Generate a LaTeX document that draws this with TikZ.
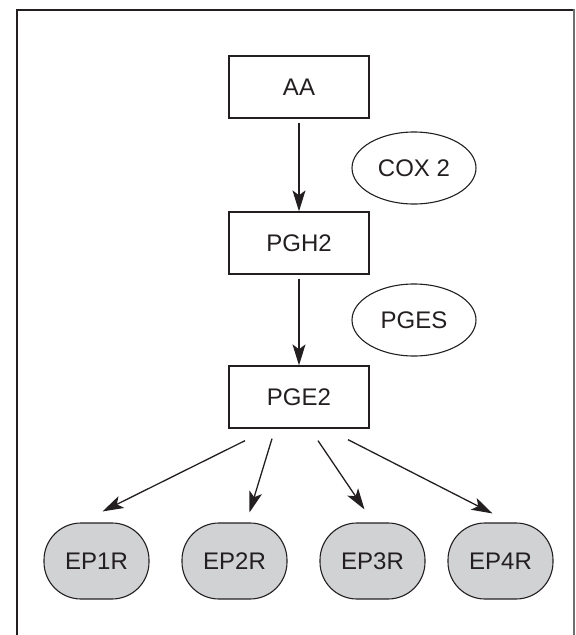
\documentclass[tikz,border=0pt]{standalone}
\usepackage{fontspec}
\setmainfont{Liberation Sans}
\usepackage{xcolor}
\usetikzlibrary{arrows.meta,shapes.geometric}
\definecolor{receptorgray}{HTML}{d1d2d4}
\definecolor{framegray}{HTML}{6d6e70}
\definecolor{inkcolor}{HTML}{231f20}

\begin{document}
\begin{tikzpicture}[x = 1pt, y = -1pt,
        every node/.style = {font = \fontsize{24}{28}\selectfont, text = inkcolor, inner sep = 0pt},
        metabolite/.style = {draw = inkcolor, rectangle, line width = 1.3pt, minimum width = 140pt, minimum height = 62pt},
        enzyme/.style = {draw = inkcolor, ellipse, line width = 1.1pt, minimum width = 124pt, minimum height = 72pt},
        receptor/.style = {fill = receptorgray, draw = inkcolor, rectangle, rounded corners = 37pt, line width = 1.1pt, minimum width = 105pt, minimum height = 76pt},
        link/.style = {-{Stealth[length = 21pt, width = 13pt, inset = 5pt]}, line width = 1.3pt, draw = inkcolor}]
        \useasboundingbox (0, 0) rectangle (576, 635);
        % Frame (open at the bottom)
        \draw [line width = 1.8pt, draw = inkcolor] (17, 635) -- (17, 10) -- (574, 10);
        \draw [line width = 2.6pt, draw = framegray] (574, 9) -- (574, 635);
        % Nodes
        \node [metabolite] (aa) at (299, 87) {AA};
        \node [metabolite] (pgh2) at (299, 243) {PGH2};
        \node [metabolite] (pge2) at (299, 397) {PGE2};
        \node [enzyme] (cox2) at (414, 168) {COX 2};
        \node [enzyme] (pges) at (414, 320) {PGES};
        \node [receptor] (ep1r) at (96.5, 561) {EP1R};
        \node [receptor] (ep2r) at (234.5, 561) {EP2R};
        \node [receptor] (ep3r) at (372.5, 561) {EP3R};
        \node [receptor] (ep4r) at (500.5, 561) {EP4R};
        % Draw the links
        \draw [link, shorten <= 4pt] (aa) -- (pgh2);
        \draw [link, shorten <= 4pt] (pgh2) -- (pge2);
        \draw [link] ([xshift = -54pt, yshift = -12pt]pge2.south) -- ([xshift = 6pt, yshift = 11pt]ep1r.north);
        \draw [link] ([xshift = -27pt, yshift = -10pt]pge2.south) -- ([xshift = 15pt, yshift = 10pt]ep2r.north);
        \draw [link] ([xshift = 19pt, yshift = -12pt]pge2.south) -- ([xshift = -8pt, yshift = 13pt]ep3r.north);
        \draw [link] ([xshift = 49pt, yshift = -11pt]pge2.south) -- ([xshift = -8pt, yshift = 9pt]ep4r.north);
    \end{tikzpicture}
\end{document}
